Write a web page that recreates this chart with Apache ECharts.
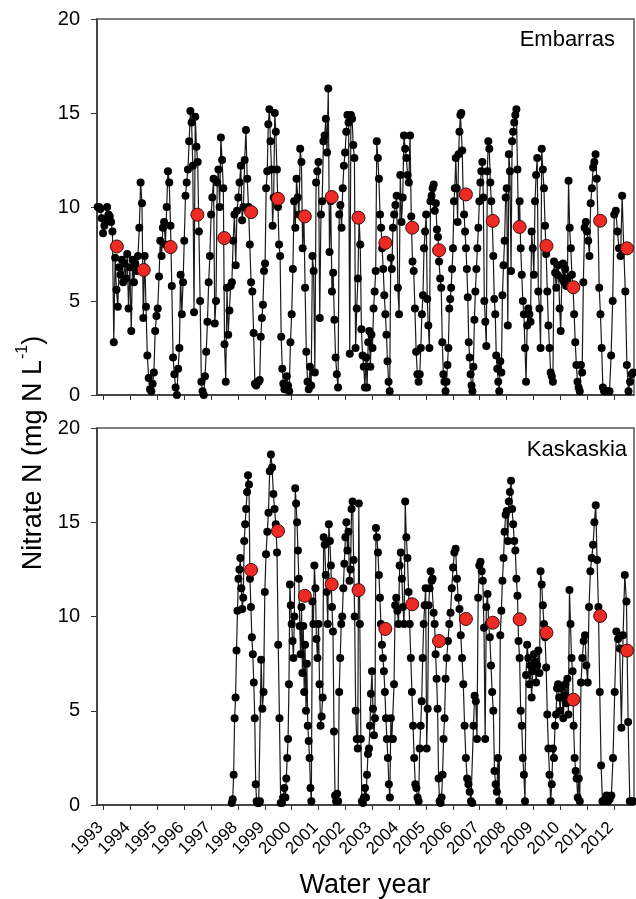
<!DOCTYPE html>
<html>
<head>
<meta charset="utf-8">
<script src="https://cdn.jsdelivr.net/npm/echarts@6/dist/echarts.min.js"></script>
<style>
  html, body { margin: 0; padding: 0; background: #fff; }
  #chart { width: 636px; height: 899px; }
</style>
</head>
<body>
<div id="chart"></div>
<script>
// water years (Oct 1 of previous year -> Sep 30), x axis in calendar years
var waterYears = [1993, 1994, 1995, 1996, 1997, 1998, 1999, 2000, 2001, 2002,
  2003, 2004, 2005, 2006, 2007, 2008, 2009, 2010, 2011, 2012];
var yearTicks = waterYears.slice();

// Embarras nitrate-N samples, one list per water year (Oct -> Sep)
var embarrasSamples = [
  [10.0, 10.0, 9.9, 9.4, 8.6, 9.0, 9.3, 10.0, 9.6, 9.5, 9.2, 8.7, 2.8, 7.3, 5.6, 4.7, 6.8, 6.4, 7.2, 6.0],
  [7.0, 6.2, 7.5, 4.6, 6.8, 3.4, 7.2, 6.0, 7.0, 6.6, 7.4, 8.9, 11.3, 10.2, 4.1, 7.4, 4.7, 2.1, 0.9, 0.3],
  [0.2, 0.6, 1.2, 3.4, 4.2, 4.6, 6.3, 8.2, 7.4, 8.9, 9.2, 8.0, 10.0, 11.9, 11.3, 9.0, 5.8, 2.0, 1.1, 0.4, 0.0],
  [1.4, 2.5, 6.4, 4.3, 6.0, 8.2, 10.6, 11.3, 12.0, 13.5, 15.1, 14.5, 12.2, 4.4, 14.8, 13.2, 12.4, 8.7, 5.0, 0.7, 0.2, 0.0],
  [1.0, 2.3, 3.9, 6.0, 7.4, 9.6, 10.5, 11.5, 3.8, 5.0, 11.3, 12.0, 10.0, 13.7, 12.5, 11.0, 2.7, 0.7, 5.7, 3.2, 4.5, 5.8],
  [6.0, 8.2, 9.6, 6.9, 9.8, 10.5, 11.3, 12.2, 9.3, 10.0, 12.5, 14.1, 11.5, 10.0, 8.0, 6.0, 5.5, 3.3, 0.6, 0.5, 0.7],
  [0.7, 0.8, 3.1, 4.1, 4.8, 6.6, 7.0, 11.0, 11.9, 14.4, 15.2, 13.5, 12.0, 9.0, 10.5, 15.0, 14.0, 12.0, 10.0, 8.0, 7.4, 3.1, 1.4, 0.6, 0.3],
  [0.3, 1.0, 0.5, 0.2, 2.8, 4.3, 6.7, 10.3, 8.9, 11.5, 10.5, 9.6, 13.1, 12.4, 7.8, 9.6, 5.7, 2.3, 0.7, 0.3, 1.5, 0.5],
  [7.4, 6.6, 1.2, 11.3, 11.9, 12.4, 4.1, 9.6, 10.3, 13.5, 13.8, 14.7, 12.9, 16.3, 7.6, 10.3, 5.5, 6.5, 4.0, 2.0, 1.1, 0.4],
  [9.6, 10.1, 8.9, 11.0, 12.2, 12.9, 14.0, 14.9, 14.5, 2.2, 14.9, 14.7, 13.3, 12.6, 2.5, 4.6, 6.2, 9.4, 8.0, 3.5, 2.1, 1.5, 0.4],
  [2.0, 0.4, 2.8, 3.4, 1.5, 3.2, 2.5, 4.6, 5.5, 6.6, 13.5, 12.6, 11.5, 9.6, 8.9, 7.8, 6.7, 5.3, 4.3, 3.2, 1.8, 0.7, 0.2, 7.3, 6.7],
  [8.9, 9.6, 10.1, 10.6, 5.7, 4.3, 11.7, 9.2, 10.5, 13.8, 13.1, 12.6, 11.7, 11.3, 13.8, 9.5, 7.1, 6.6, 4.6, 2.3, 1.1, 0.7],
  [1.1, 2.5, 4.3, 5.3, 7.8, 8.7, 9.6, 5.1, 3.7, 2.5, 10.3, 10.6, 11.0, 11.2, 9.8, 10.2, 8.8, 8.4, 7.1, 6.2, 5.7, 2.8, 1.1, 0.7, 0.2],
  [0.7, 1.6, 2.5, 4.6, 5.1, 5.7, 6.7, 7.8, 10.3, 11.0, 12.6, 11.0, 9.2, 12.8, 14.0, 14.9, 15.0, 13.0, 10.6, 9.6, 8.7, 7.8, 6.7, 5.2, 2.8, 2.0, 1.1, 0.5, 0.2],
  [1.5, 4.0, 5.5, 6.7, 7.8, 8.9, 10.3, 11.3, 11.9, 12.4, 10.5, 5.0, 3.9, 2.6, 11.9, 13.5, 13.1, 11.3, 10.3, 9.2, 7.4, 5.1, 4.3, 2.1, 1.4, 0.7, 0.2],
  [1.8, 1.2, 5.3, 6.9, 8.2, 10.5, 11.0, 3.7, 12.8, 11.9, 6.6, 13.5, 14.0, 14.5, 14.9, 15.2, 12.0, 9.0, 10.3, 7.8, 6.4, 5.0, 4.3, 2.5, 0.7],
  [3.7, 4.6, 4.3, 3.9, 8.7, 7.8, 6.4, 10.3, 11.7, 12.6, 5.5, 4.6, 2.5, 13.1, 12.0, 11.0, 9.0, 7.5, 5.5, 3.7, 2.5, 1.2, 1.0, 0.7],
  [7.1, 6.5, 5.7, 6.4, 6.9, 4.6, 3.4, 6.2, 7.0, 6.0, 6.7, 5.8, 6.2, 11.4, 8.9, 7.8, 6.4, 5.7, 4.3, 2.8, 1.6, 0.7, 0.4, 0.2],
  [1.6, 1.2, 6.0, 8.9, 9.2, 8.7, 8.2, 7.4, 10.2, 11.0, 12.1, 12.4, 12.8, 11.5, 9.3, 5.7, 4.3, 2.5, 0.4, 0.2, 0.2, 0.2],
  [0.2, 0.2, 2.1, 5.0, 9.6, 9.8, 8.7, 7.8, 7.4, 10.6, 7.8, 5.5, 1.6, 0.2, 0.7, 1.1, 1.2]
];

// Kaskaskia nitrate-N samples (no data before water year 1998)
var kaskaskiaSamples = [
  [], [], [], [], [],
  [0.1, 0.3, 1.6, 4.6, 5.7, 8.2, 10.3, 12.0, 12.5, 13.1, 11.5, 10.4, 11.0, 14.0, 14.9, 15.7, 16.6, 17.5, 17.0, 12.0, 10.5, 8.9, 8.0, 6.5, 4.6, 1.1, 0.2, 0.1],
  [0.1, 0.2, 7.7, 5.1, 6.0, 11.3, 13.3, 14.5, 15.5, 17.7, 18.6, 17.9, 16.5, 15.7, 14.9, 13.4, 8.5, 4.6, 0.1, 0.1, 0.4, 0.9],
  [0.4, 1.4, 2.5, 3.5, 6.4, 11.7, 10.6, 9.6, 8.7, 7.8, 10.0, 16.8, 16.0, 15.0, 13.5, 12.0, 9.5, 8.0, 10.5, 7.0, 9.5, 6.0, 8.5, 5.0, 7.5, 4.2, 3.4, 2.5, 0.9, 0.2],
  [10.8, 9.6, 12.7, 11.5, 8.8, 7.8, 9.6, 6.4, 4.2, 4.7, 5.7, 14.2, 13.8, 12.2, 11.3, 9.6, 14.9, 14.0, 12.7, 10.5, 9.2, 3.9, 0.5, 0.2, 0.6, 0.2],
  [6.0, 7.8, 9.6, 10.0, 11.5, 12.8, 14.2, 15.0, 13.5, 14.5, 11.9, 12.5, 15.7, 16.1, 13.0, 10.0, 5.0, 3.5, 3.0, 16.0, 9.6, 3.5, 0.2, 0.1, 0.4, 0.9],
  [0.4, 1.6, 2.7, 3.0, 4.2, 5.9, 7.1, 5.1, 3.7, 4.6, 14.7, 14.2, 13.4, 12.2, 11.0, 9.6, 8.5, 7.8, 7.1, 6.0, 4.6, 3.5, 2.5, 1.1, 0.4, 4.6, 3.5],
  [3.5, 6.4, 10.6, 11.0, 10.3, 9.6, 12.7, 13.4, 12.0, 10.5, 9.6, 16.1, 14.2, 13.1, 11.3, 9.6, 7.8, 6.0, 4.2, 2.5, 1.1, 0.9, 0.4, 0.2],
  [3.0, 4.2, 5.5, 7.8, 9.6, 10.6, 11.5, 3.0, 5.1, 10.6, 11.5, 12.4, 11.9, 12.0, 10.2, 9.6, 8.0, 6.7, 5.1, 1.4, 0.2, 0.1, 0.4, 1.6, 3.5, 4.6, 6.7],
  [7.8, 8.7, 9.6, 10.2, 11.5, 12.6, 13.4, 13.6, 12.0, 11.0, 10.4, 9.0, 7.8, 6.4, 4.2, 2.5, 1.4, 1.1, 0.7, 0.2, 0.1],
  [4.2, 5.8, 5.5, 3.5, 11.0, 12.7, 12.9, 12.4, 11.9, 9.4, 3.5, 10.5, 11.2, 9.6, 8.9, 7.4, 6.0, 5.0, 1.8, 1.1, 0.7, 2.5, 0.2],
  [9.0, 10.3, 11.9, 13.1, 14.5, 15.4, 15.6, 14.0, 16.1, 16.6, 17.2, 15.7, 14.9, 14.0, 13.5, 12.0, 11.1, 8.7, 7.8, 5.0, 4.2, 2.5, 1.6, 0.2, 6.9],
  [8.5, 7.8, 6.4, 7.4, 5.7, 7.1, 8.0, 7.6, 6.5, 7.4, 8.2, 7.0, 12.4, 11.7, 10.6, 9.6, 8.9, 7.3, 4.8, 3.0, 1.6, 0.2, 1.1, 3.0],
  [2.5, 4.2, 4.8, 6.2, 6.4, 5.7, 5.0, 6.2, 5.7, 4.6, 5.8, 6.4, 5.4, 6.7, 4.8, 11.4, 9.6, 7.8, 7.1, 4.2, 2.5, 1.8, 1.4, 0.4, 1.4, 0.2],
  [6.5, 7.8, 8.7, 9.0, 7.4, 6.5, 10.5, 12.4, 13.1, 13.8, 15.0, 15.9, 13.0, 10.5, 6.0, 2.1, 0.2, 0.2, 0.3, 0.5],
  [0.2, 0.3, 0.5, 2.5, 6.0, 9.2, 8.8, 8.3, 4.1, 9.0, 12.2, 10.8, 4.4, 0.2, 0.2, 0.2]
];

// annual (water year) means, red dots
var embarrasMean = [7.9, 6.65, 7.87, 9.59, 8.35, 9.73, 10.44, 9.5, 10.53, 9.43,
  8.09, 8.9, 7.7, 10.67, 9.26, 8.94, 7.93, 5.73, 9.27, 7.8];
var kaskaskiaMean = [null, null, null, null, null, 12.47, 14.54, 11.1, 11.71, 11.4,
  9.34, 10.65, 8.7, 9.87, 9.67, 9.85, 9.14, 5.59, 10.03, 8.19];

var FONT = "'Liberation Sans', Arial, sans-serif";

// spread each water year's samples over Oct 1 (year-0.25) .. Sep 30 (year+0.75)
function toPoints(byYear) {
  var pts = [];
  byYear.forEach(function (vals, k) {
    var wy = waterYears[k];
    vals.forEach(function (v, i) {
      pts.push([wy - 0.25 + (i + 0.5) / vals.length, v]);
    });
  });
  return pts;
}
function meanPoints(means) {
  var pts = [];
  means.forEach(function (v, k) {
    if (v != null) pts.push([waterYears[k] + 0.49, v]);
  });
  return pts;
}

var chart = echarts.init(document.getElementById('chart'));

function xAxis(idx) {
  return {
    type: 'value', gridIndex: idx, min: 1992.75, max: 2012.75,
    axisLine: { lineStyle: { color: '#333', width: 1.5 } },
    axisTick: { customValues: yearTicks },
    axisLabel: { show: false }, // year labels placed below from the axis scale
    splitLine: { show: false }
  };
}

function yAxis(idx) {
  return {
    type: 'value',
    gridIndex: idx,
    min: 0,
    max: 20,
    interval: 5,
    axisLine: { show: true, lineStyle: { color: '#333', width: 1.5 } },
    axisTick: { show: true, length: 6, lineStyle: { color: '#333' } },
    axisLabel: { margin: 17, fontSize: 20, color: '#000', fontFamily: FONT },
    splitLine: { show: false }
  };
}

var lineStyle = { color: '#1a1a1a', width: 1.2 };
var dotStyle = { color: '#000' };
var redStyle = { color: '#ee2a24', opacity: 1, borderColor: '#3a0a0a', borderWidth: 1 };

var texts = [
  {
    type: 'text', right: 21, top: 29, z: 10,
    style: { text: 'Embarras', fontSize: 22, fontFamily: FONT, fill: '#000' }
  },
  {
    type: 'text', right: 9, top: 439, z: 10,
    style: { text: 'Kaskaskia', fontSize: 22, fontFamily: FONT, fill: '#000' }
  },
  {
    type: 'text', x: 31, y: 453, rotation: Math.PI / 2,
    style: {
      text: '{a|Nitrate N (mg N L}{b|-1}{a|)}',
      align: 'center', verticalAlign: 'middle',
      fontFamily: FONT, fill: '#000',
      rich: {
        a: { fontSize: 27, fontFamily: FONT, lineHeight: 32, verticalAlign: 'bottom' },
        b: { fontSize: 16, fontFamily: FONT, lineHeight: 32, verticalAlign: 'top', padding: [0, 0, 12, 1] }
      }
    }
  },
  {
    type: 'text', x: 365, y: 886,
    style: {
      text: 'Water year', align: 'center', verticalAlign: 'middle',
      fontSize: 27, fontFamily: FONT, fill: '#000'
    }
  }
];

chart.setOption({
  animation: false,
  backgroundColor: '#fff',
  grid: [
    { left: 97, right: 2, top: 19, height: 376, show: true, borderColor: '#555', borderWidth: 1.5 },
    { left: 97, right: 2, top: 428, height: 377, show: true, borderColor: '#555', borderWidth: 1.5 }
  ],
  xAxis: [xAxis(0), xAxis(1)],
  yAxis: [yAxis(0), yAxis(1)],
  series: [
    {
      name: 'Embarras', type: 'line', xAxisIndex: 0, yAxisIndex: 0,
      data: toPoints(embarrasSamples),
      symbol: 'circle', symbolSize: 8, showAllSymbol: true,
      lineStyle: lineStyle, itemStyle: dotStyle
    },
    {
      name: 'Embarras mean', type: 'scatter', xAxisIndex: 0, yAxisIndex: 0,
      data: meanPoints(embarrasMean), symbolSize: 13, itemStyle: redStyle, z: 5
    },
    {
      name: 'Kaskaskia', type: 'line', xAxisIndex: 1, yAxisIndex: 1,
      data: toPoints(kaskaskiaSamples),
      symbol: 'circle', symbolSize: 8, showAllSymbol: true,
      lineStyle: lineStyle, itemStyle: dotStyle
    },
    {
      name: 'Kaskaskia mean', type: 'scatter', xAxisIndex: 1, yAxisIndex: 1,
      data: meanPoints(kaskaskiaMean), symbolSize: 13, itemStyle: redStyle, z: 5
    }
  ]
});

// slanted year labels, positioned from the bottom x axis scale
var yearLabels = yearTicks.map(function (yr) {
  var p = chart.convertToPixel({ xAxisIndex: 1, yAxisIndex: 1 }, [yr, 0]);
  return {
    type: 'text', x: p[0] - 3, y: p[1] + 20, rotation: Math.PI / 4,
    style: {
      text: String(yr), align: 'right', verticalAlign: 'middle',
      fontSize: 17, fontFamily: FONT, fill: '#000'
    }
  };
});

chart.setOption({ graphic: texts.concat(yearLabels) });
</script>
</body>
</html>
